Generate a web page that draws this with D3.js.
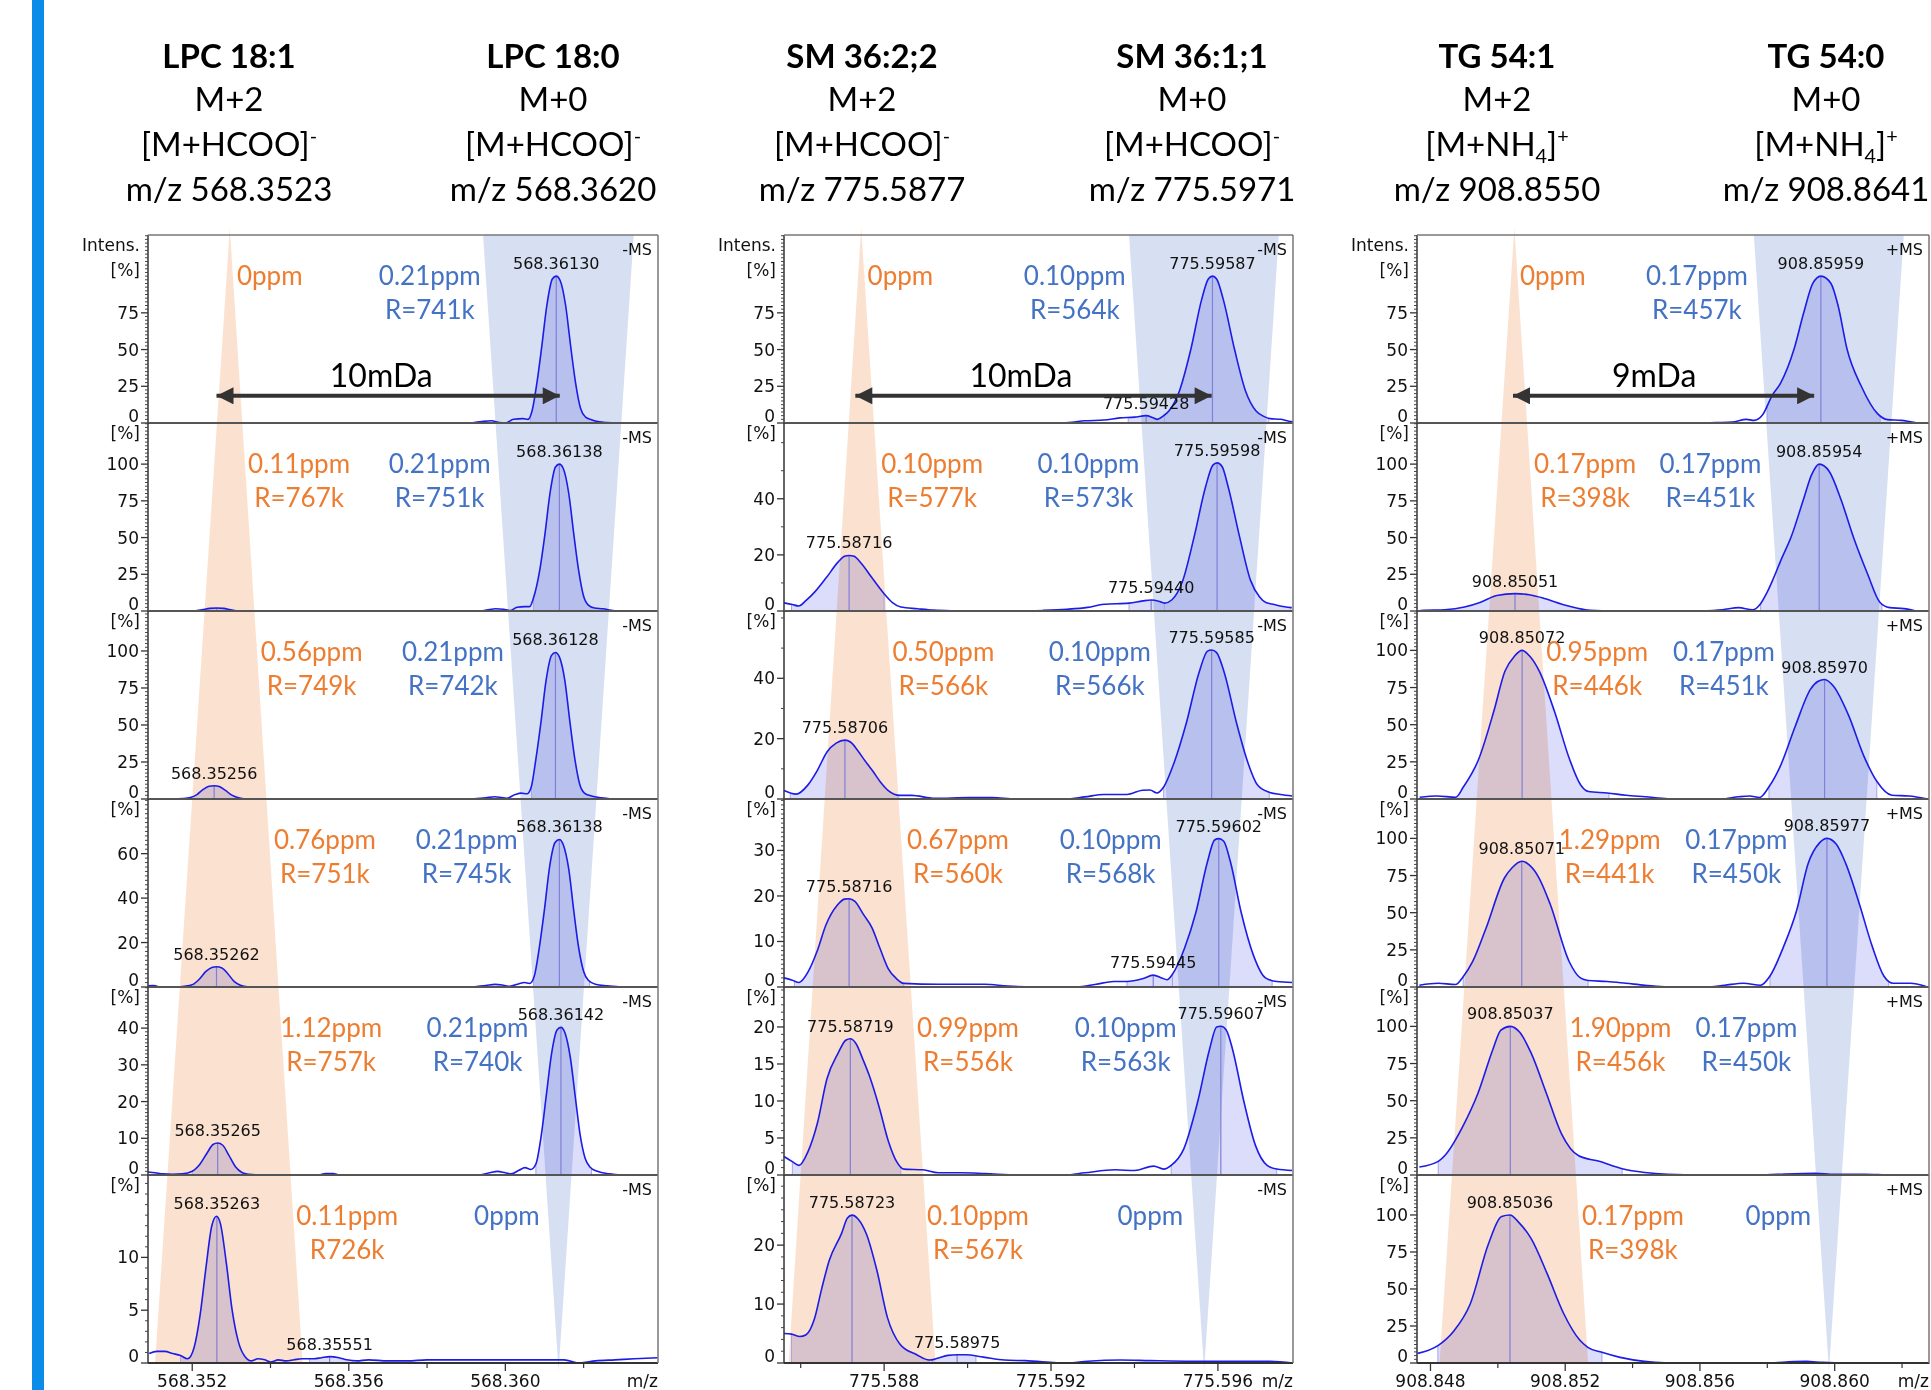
<!DOCTYPE html>
<html>
<head>
<meta charset="utf-8">
<script src="https://cdn.jsdelivr.net/npm/d3@7"></script>
<style>
  body { margin: 0; background: #fff; }
  svg { display: block; }
  .small { font-family: "DejaVu Sans", Verdana, sans-serif; fill: #111; }
  .cal { font-family: Lato, "Open Sans", sans-serif; }
</style>
</head>
<body>
<svg id="chart" width="1931" height="1390"></svg>
<script>

////////////////////////
// Data (read off the //
// reference picture) //
////////////////////////

const X_DOMAINS = [[568.35087, 568.3639], [775.5856, 775.5978], [908.8476, 908.8628]];
const X_TICKS = [[568.352, 568.356, 568.360], [775.588, 775.592, 775.596], [908.848, 908.852, 908.856, 908.860]];
const X_MINOR = [[568.354, 568.358, 568.362], [775.586, 775.590, 775.594], [908.850, 908.854, 908.858, 908.862]];
const POLARITY = ['-MS', '-MS', '+MS'];

const TITLES = [
  [['LPC 18:1', 'M+2', '[M+HCOO]^-', 'm/z 568.3523'], ['LPC 18:0', 'M+0', '[M+HCOO]^-', 'm/z 568.3620']],
  [['SM 36:2;2', 'M+2', '[M+HCOO]^-', 'm/z 775.5877'], ['SM 36:1;1', 'M+0', '[M+HCOO]^-', 'm/z 775.5971']],
  [['TG 54:1', 'M+2', '[M+NH_4]^+', 'm/z 908.8550'], ['TG 54:0', 'M+0', '[M+NH_4]^+', 'm/z 908.8641']]
];

// top of each panel's intensity axis [%]
const Y_MAX = [
  [128, 128, 127, 84.6, 51.2, 17.8],
  [128, 67, 62.3, 41.3, 25.4, 31.9],
  [128, 128, 126.5, 126.5, 126.5, 127]
];
const Y_TICKS = [
  [[0, 25, 50, 75], [0, 25, 50, 75, 100], [0, 25, 50, 75, 100], [0, 20, 40, 60], [0, 10, 20, 30, 40], [0, 5, 10]],
  [[0, 25, 50, 75], [0, 20, 40], [0, 20, 40], [0, 10, 20, 30], [0, 5, 10, 15, 20], [0, 10, 20]],
  [[0, 25, 50, 75], [0, 25, 50, 75, 100], [0, 25, 50, 75, 100], [0, 25, 50, 75, 100], [0, 25, 50, 75, 100], [0, 25, 50, 75, 100]]
];
const Y_MINOR = [[2.5, 2.5, 2.5, 2, 1, 1], [2.5, 10, 10, 1, 1, 2], [2.5, 2.5, 2.5, 2.5, 2.5, 2.5]];

// profile spectra [m/z, intensity %], null = gap
const LPC_PROFILES = [
  [[568.35912,0],[568.35940,1],[568.35964,1.5],[568.35985,0.3],[568.36000,0],[568.36021,2.5],[568.36045,3],[568.36058,2.5],[568.36068,8],[568.36081,28],[568.36093,52],[568.36106,80],[568.36120,98],[568.36130,100],[568.36140,97],[568.36154,80],[568.36167,52],[568.36179,28],[568.36192,10],[568.36205,4],[568.36220,2.2],[568.36240,0.8],[568.36260,0.3],[568.36285,0]],
  [[568.35205,0],[568.35225,0.8],[568.35245,1.8],[568.35262,2],[568.35280,1.8],[568.35298,0.8],[568.35315,0],null,
   [568.35940,0],[568.35960,1],[568.35975,1.5],[568.35995,1.2],[568.36012,0.3],[568.36030,2.5],[568.36050,3],[568.36062,3],[568.36072,9],[568.36088,28],[568.36101,52],[568.36114,80],[568.36128,98],[568.36138,100],[568.36148,97],[568.36162,80],[568.36175,52],[568.36187,28],[568.36200,10],[568.36212,4],[568.36228,2],[568.36250,1.5],[568.36270,0.5],[568.36293,0]],
  [[568.35150,0],[568.35175,0.3],[568.35195,1],[568.35212,3],[568.35228,6.5],[568.35243,8.6],[568.35256,9],[568.35269,8.4],[568.35284,6],[568.35300,2.8],[568.35316,1],[568.35335,0],null,
   [568.35916,0],[568.35950,0.8],[568.35973,1.5],[568.35990,1],[568.36003,0.5],[568.36025,3],[568.36040,4],[568.36055,3.5],[568.36066,8],[568.36078,27],[568.36091,52],[568.36104,80],[568.36118,97],[568.36128,99],[568.36138,96],[568.36152,80],[568.36165,52],[568.36177,28],[568.36190,10],[568.36202,4],[568.36220,2],[568.36245,0.8],[568.36276,0]],
  [[568.35087,0.5],[568.35100,0.6],[568.35115,0],null,
   [568.35155,0],[568.35180,0.3],[568.35200,1],[568.35218,3.5],[568.35235,7],[568.35250,8.8],[568.35262,9.1],[568.35276,8.6],[568.35291,6],[568.35307,2.5],[568.35323,0.8],[568.35345,0],null,
   [568.35916,0],[568.35950,0.6],[568.35974,1.2],[568.35995,0.8],[568.36011,0.3],[568.36035,1.5],[568.36049,2],[568.36062,1.6],[568.36074,5],[568.36087,18],[568.36100,35],[568.36113,54],[568.36127,65],[568.36138,66.4],[568.36148,64],[568.36162,53],[568.36175,34],[568.36187,18],[568.36200,7],[568.36212,3],[568.36230,1.2],[568.36260,0.5],[568.36295,0]],
  [[568.35087,0.8],[568.35105,0.6],[568.35125,0.3],[568.35150,0.2],[568.35175,0.3],[568.35200,1],[568.35220,3],[568.35238,6],[568.35253,8.3],[568.35265,8.7],[568.35278,8.1],[568.35293,5.5],[568.35310,2.3],[568.35327,0.7],[568.35345,0.2],[568.35370,0],null,
   [568.35525,0],[568.35540,0.4],[568.35560,0.4],[568.35575,0],null,
   [568.35935,0],[568.35960,0.6],[568.35980,1],[568.36000,0.6],[568.36015,0.3],[568.36035,1.3],[568.36050,2],[568.36065,1.5],[568.36078,3],[568.36092,11],[568.36105,22],[568.36118,33],[568.36132,39.5],[568.36142,40.2],[568.36152,38.8],[568.36166,32],[568.36179,21],[568.36191,11],[568.36204,4.5],[568.36216,2.2],[568.36235,1],[568.36265,0.3],[568.36300,0]],
  [[568.35090,0.9],[568.35110,1.1],[568.35130,1.1],[568.35150,0.9],[568.35170,0.7],[568.35188,0.4],[568.35205,1.5],[568.35220,4.5],[568.35235,9],[568.35250,13],[568.35262,13.9],[568.35272,13.2],[568.35287,9.5],[568.35302,5],[568.35318,2],[568.35335,0.6],[568.35352,0.2],[568.35368,0.4],[568.35385,0.3],[568.35400,0.1],[568.35420,0.3],[568.35440,0.2],[568.35460,0.3],[568.35480,0.4],[568.35510,0.4],[568.35530,0.5],[568.35551,0.6],[568.35575,0.5],[568.35595,0.3],[568.35620,0.2],[568.35650,0.3],[568.35700,0.2],[568.35750,0.2],[568.35800,0.3],[568.35900,0.3],[568.36000,0.3],[568.36080,0.3],[568.36150,0.3],[568.36190,0],[568.36230,0.2],[568.36280,0.3],[568.36330,0.4],[568.36389,0.5]]
];

const SM_PROFILES = [
  [[775.59213,0],[775.59250,0.5],[775.59280,1.5],[775.59327,2],[775.59365,3.5],[775.59400,4],[775.59428,5],[775.59445,3.5],[775.59455,2.5],[775.59470,5],[775.59482,8],[775.59508,22],[775.59535,50],[775.59561,84],[775.59577,98],[775.59587,100],[775.59597,98],[775.59613,84],[775.59640,50],[775.59666,22],[775.59692,8],[775.59710,4.5],[775.59725,3],[775.59750,2.5],[775.59770,1.2],[775.59780,0.8]],
  [[775.58560,2.9],[775.58580,2.3],[775.58595,1.8],[775.58613,3.8],[775.58635,7],[775.58662,12],[775.58690,17.5],[775.58705,19.5],[775.58716,19.8],[775.58728,19.5],[775.58745,17],[775.58770,12],[775.58798,6.5],[775.58820,3],[775.58840,1.4],[775.58880,0.8],[775.58918,0.3],[775.58960,0.1],[775.59050,0],[775.59110,0],[775.59180,0.2],[775.59238,0.6],[775.59288,1.3],[775.59327,2.4],[775.59387,2.8],[775.59420,3.6],[775.59440,3.9],[775.59458,3.5],[775.59472,2.8],[775.59490,4],[775.59515,10.5],[775.59543,26.4],[775.59570,44],[775.59588,52],[775.59598,52.8],[775.59610,51.5],[775.59625,44],[775.59652,26.4],[775.59678,11],[775.59700,5],[775.59715,3],[775.59735,2.3],[775.59760,1.5],[775.59777,1.2]],
  [[775.58560,2.8],[775.58589,1.6],[775.58617,4.6],[775.58640,9.5],[775.58663,15.6],[775.58685,18.5],[775.58706,19.5],[775.58720,18.8],[775.58737,16],[775.58755,12.5],[775.58774,9],[775.58792,5.5],[775.58810,2.8],[775.58838,1.2],[775.58866,1.2],[775.58921,0.2],[775.59004,0.5],[775.59059,0.5],[775.59115,0],[775.59234,0],[775.59281,0.7],[775.59327,1.5],[775.59382,1.5],[775.59419,2.9],[775.59437,3],[775.59454,2],[775.59470,4],[775.59495,12],[775.59524,25],[775.59555,42],[775.59575,49],[775.59585,49.4],[775.59597,48.5],[775.59615,42],[775.59645,25],[775.59672,12],[775.59695,4.6],[775.59723,2.2],[775.59750,1.5],[775.59778,1]],
  [[775.58560,2],[775.58580,1.5],[775.58596,1],[775.58617,3.2],[775.58640,8],[775.58660,13.5],[775.58688,18],[775.58705,19.3],[775.58716,19.4],[775.58730,18.8],[775.58750,16],[775.58771,13],[775.58790,8.5],[775.58810,4],[775.58830,1.8],[775.58847,0.8],[775.58930,0.6],[775.59041,0.6],[775.59096,0.2],[775.59161,0],[775.59262,0],[775.59308,0.6],[775.59350,1.2],[775.59382,1.2],[775.59419,1.8],[775.59445,2.6],[775.59465,2],[775.59478,1.6],[775.59491,2.8],[775.59520,8.5],[775.59547,16.3],[775.59575,27.5],[775.59592,32.3],[775.59602,32.6],[775.59614,32],[775.59630,27.5],[775.59656,16.3],[775.59685,7],[775.59714,2],[775.59741,1.2],[775.59778,1]],
  [[775.58560,2.5],[775.58580,1.8],[775.58596,1.3],[775.58617,3.1],[775.58640,7],[775.58663,13],[775.58690,16.5],[775.58708,18.2],[775.58719,18.4],[775.58732,17.8],[775.58750,15.5],[775.58764,13.5],[775.58788,9.2],[775.58810,4.6],[775.58830,1.8],[775.58847,0.8],[775.58893,0.7],[775.58930,0.3],[775.58985,0.3],[775.59041,0.2],[775.59124,0],[775.59234,0],[775.59281,0.3],[775.59354,0.7],[775.59400,0.6],[775.59446,1.2],[775.59470,0.8],[775.59488,1.3],[775.59518,3.5],[775.59552,10],[775.59580,17],[775.59597,20],[775.59607,20.1],[775.59620,19.6],[775.59635,17],[775.59662,10],[775.59690,4],[775.59718,1.3],[775.59741,0.8],[775.59778,0.6]],
  [[775.58560,5],[775.58578,4.9],[775.58598,4.5],[775.58613,4.8],[775.58633,7.5],[775.58650,12.5],[775.58668,17.3],[775.58698,22],[775.58712,24.6],[775.58723,25.1],[775.58738,24.4],[775.58758,21.8],[775.58783,15.6],[775.58808,7.7],[775.58838,3.2],[775.58878,1.4],[775.58908,0.5],[775.58928,0.8],[775.58953,1.3],[775.58975,1.4],[775.58995,1.4],[775.59038,1],[775.59088,0.5],[775.59138,0.4],[775.59238,0],[775.59288,0.3],[775.59367,0.5],[775.59437,0.4],[775.59537,0.3],[775.59637,0.3],[775.59717,0.3],[775.59780,0]]
];

const TG_PROFILES = [
  [[908.85606,0],[908.85650,0.3],[908.85696,0.7],[908.85738,2.5],[908.85761,1.8],[908.85785,5.2],[908.85815,19],[908.85839,27],[908.85879,50],[908.85908,75],[908.85935,95],[908.85959,100],[908.85989,95],[908.86010,80],[908.86037,50],[908.86079,25],[908.86127,6.4],[908.86157,2.3],[908.86198,1.8],[908.86225,0.8],[908.86246,0]],
  [[908.84770,0.3],[908.84782,0.5],[908.84842,0.9],[908.84901,2.7],[908.84949,6],[908.84997,10.5],[908.85051,11.8],[908.85093,11.1],[908.85141,8.4],[908.85201,3.9],[908.85260,0.9],[908.85332,0],null,
   [908.85601,0],[908.85667,0.9],[908.85715,2.3],[908.85756,0.8],[908.85780,5],[908.85800,13],[908.85816,21],[908.85843,36],[908.85870,50],[908.85906,75],[908.85932,93],[908.85954,100],[908.85984,95],[908.86020,75],[908.86056,50],[908.86098,25],[908.86134,6],[908.86163,2.3],[908.86205,1.6],[908.86241,0]],
  [[908.84768,1.2],[908.84819,2],[908.84875,1.2],[908.84898,8.2],[908.84943,26.7],[908.84988,59],[908.85021,86],[908.85049,96],[908.85072,100],[908.85095,96],[908.85123,86],[908.85168,59],[908.85213,26.7],[908.85246,9.4],[908.85269,5],[908.85325,4],[908.85381,2.5],[908.85438,1.5],[908.85505,0.2],[908.85663,0],[908.85715,1.5],[908.85748,2],[908.85777,1],[908.85805,8.2],[908.85838,21.8],[908.85883,49],[908.85928,73.8],[908.85951,79.2],[908.85970,80.4],[908.85996,76],[908.86041,56.4],[908.86086,29.2],[908.86125,11.9],[908.86170,2.5],[908.86221,2],[908.86272,0.2]],
  [[908.84767,1.2],[908.84823,2.5],[908.84874,1.7],[908.84897,6.9],[908.84925,17],[908.84964,39],[908.85020,73.5],[908.85043,80.4],[908.85071,84.6],[908.85094,82],[908.85122,73.5],[908.85155,56],[908.85212,17],[908.85245,6.1],[908.85268,4.4],[908.85324,3.7],[908.85380,2.5],[908.85437,1.2],[908.85504,0],[908.85617,0],[908.85673,1.2],[908.85729,2.5],[908.85780,1.2],[908.85808,7.4],[908.85848,27],[908.85887,51.5],[908.85921,83],[908.85955,97],[908.85977,100],[908.86005,96],[908.86033,83],[908.86073,56],[908.86112,27],[908.86146,7.4],[908.86174,2.5],[908.86225,2.5],[908.86270,0.5]],
  [[908.84767,5.4],[908.84823,9.2],[908.84846,14],[908.84896,32.7],[908.84941,55],[908.84986,85],[908.85009,97.5],[908.85037,100],[908.85065,96],[908.85099,82],[908.85144,55],[908.85189,27.7],[908.85240,12.9],[908.85301,9.2],[908.85369,4.2],[908.85436,1.7],[908.85504,0.5],[908.85605,0],[908.85774,0],[908.85830,0.5],[908.85943,1.2],[908.85999,0.5],[908.86089,0.5],[908.86168,0],[908.86269,0]],
  [[908.84762,6.5],[908.84822,11.7],[908.84870,21.8],[908.84918,39.9],[908.84972,80.4],[908.85011,99],[908.85036,100],[908.85062,95],[908.85099,84],[908.85147,60],[908.85195,33.6],[908.85243,15.5],[908.85267,10.6],[908.85309,7.2],[908.85363,3.8],[908.85435,1.1],[908.85495,0.2],[908.85615,0],[908.85796,0],[908.85856,0.7],[908.85916,1.1],[908.85964,0.4],[908.86036,0],[908.86282,0]]
];
const PROFILES = [LPC_PROFILES, SM_PROFILES, TG_PROFILES];

// integrated peak regions [start, end, centroid]
const FILLS = [
  [[[568.36064, 568.36240, 568.36130]],
   [[568.35215, 568.35310, 568.35262], [568.36072, 568.36258, 568.36138]],
   [[568.35197, 568.35330, 568.35256], [568.36067, 568.36233, 568.36128]],
   [[568.35205, 568.35325, 568.35262], [568.36072, 568.36215, 568.36138]],
   [[568.35200, 568.35330, 568.35265], [568.36078, 568.36220, 568.36142]],
   [[568.35170, 568.35345, 568.35263], [568.35500, 568.35610, 568.35551]]],
  [[[775.59385, 775.59472, 775.59428], [775.59472, 775.59722, 775.59587]],
   [[775.58578, 775.58800, 775.58716], [775.59387, 775.59472, 775.59440], [775.59472, 775.59775, 775.59598]],
   [[775.58575, 775.58835, 775.58706], [775.59470, 775.59723, 775.59585]],
   [[775.58585, 775.58847, 775.58716], [775.59382, 775.59491, 775.59445], [775.59491, 775.59730, 775.59602]],
   [[775.58580, 775.58840, 775.58719], [775.59488, 775.59741, 775.59607]],
   [[775.58578, 775.58908, 775.58723], [775.58915, 775.59020, 775.58975]]],
  [[[908.85800, 908.86135, 908.85959]],
   [[908.84800, 908.85300, 908.85051], [908.85780, 908.86140, 908.85954]],
   [[908.84875, 908.85330, 908.85072], [908.85805, 908.86125, 908.85970]],
   [[908.84897, 908.85268, 908.85071], [908.85808, 908.86160, 908.85977]],
   [[908.84823, 908.85369, 908.85037]],
   [[908.84822, 908.85309, 908.85036]]]
];

// labelled peaks [m/z, intensity %]
const PEAK_LABELS = [
  [[[568.36130, 100]], [[568.36138, 100]], [[568.35256, 9], [568.36128, 99]],
   [[568.35262, 9.1], [568.36138, 66.4]], [[568.35265, 8.7], [568.36142, 40.2]], [[568.35263, 13.9], [568.35551, 0.6]]],
  [[[775.59587, 100], [775.59428, 5]], [[775.58716, 19.8], [775.59440, 3.9], [775.59598, 52.8]], [[775.58706, 19.5], [775.59585, 49.4]],
   [[775.58716, 19.4], [775.59445, 2.6], [775.59602, 32.6]], [[775.58719, 18.4], [775.59607, 20.1]], [[775.58723, 25.1], [775.58975, 1.4]]],
  [[[908.85959, 100]], [[908.85051, 11.8], [908.85954, 100]], [[908.85072, 100], [908.85970, 80.4]],
   [[908.85071, 84.6], [908.85977, 100]], [[908.85037, 100]], [[908.85036, 100]]]
];

// mass error / resolution notes [m/z anchor, line 1, line 2]
const ORANGE_NOTES = [
  [[568.35398, '0ppm', ''], [568.35473, '0.11ppm', 'R=767k'], [568.35505, '0.56ppm', 'R=749k'],
   [568.35539, '0.76ppm', 'R=751k'], [568.35555, '1.12ppm', 'R=757k'], [568.35596, '0.11ppm', 'R726k']],
  [[775.58839, '0ppm', ''], [775.58915, '0.10ppm', 'R=577k'], [775.58942, '0.50ppm', 'R=566k'],
   [775.58977, '0.67ppm', 'R=560k'], [775.59001, '0.99ppm', 'R=556k'], [775.59025, '0.10ppm', 'R=567k']],
  [[908.85163, '0ppm', ''], [908.85259, '0.17ppm', 'R=398k'], [908.85295, '0.95ppm', 'R=446k'],
   [908.85332, '1.29ppm', 'R=441k'], [908.85364, '1.90ppm', 'R=456k'], [908.85401, '0.17ppm', 'R=398k']]
];
const BLUE_NOTES = [
  [[568.35807, '0.21ppm', 'R=741k'], [568.35832, '0.21ppm', 'R=751k'], [568.35866, '0.21ppm', 'R=742k'],
   [568.35901, '0.21ppm', 'R=745k'], [568.35929, '0.21ppm', 'R=740k'], [568.36004, '0ppm', '']],
  [[775.59257, '0.10ppm', 'R=564k'], [775.59290, '0.10ppm', 'R=573k'], [775.59317, '0.10ppm', 'R=566k'],
   [775.59343, '0.10ppm', 'R=568k'], [775.59379, '0.10ppm', 'R=563k'], [775.59438, '0ppm', '']],
  [[908.85591, '0.17ppm', 'R=457k'], [908.85631, '0.17ppm', 'R=451k'], [908.85671, '0.17ppm', 'R=451k'],
   [908.85708, '0.17ppm', 'R=450k'], [908.85738, '0.17ppm', 'R=450k'], [908.85833, '0ppm', '']]
];

// guide wedges: orange [apex, bottom-left, bottom-right], blue [top-left, top-right, tip]
const ORANGE_WEDGE = [[568.35296, 568.35105, 568.35482], [775.58745, 775.58571, 775.58923], [908.85049, 908.84827, 908.85268]];
const BLUE_WEDGE = [[568.35943, 568.36328, 568.36136], [775.59387, 775.59746, 775.59567], [908.85760, 908.86205, 908.85983]];

// mass shift arrows [from, to, label, label m/z], drawn at 18.5 % of the top panel
const SHIFT_ARROWS = [[568.35262, 568.36139, '10mDa', 568.35683], [775.58731, 775.59585, '10mDa', 775.59128], [908.85045, 908.85939, '9mDa', 908.85464]];
const ARROW_LEVEL = 18.5;


////////////
// Layout //
////////////

const WIDTH = 1931, HEIGHT = 1390;
const PLOT_TOP = 235, ROW_HEIGHT = 188, ROWS = 6;
const PLOT_LEFT = [148, 784, 1417];
const PLOT_RIGHT = [658, 1293, 1929];
const TITLE_X = [[229, 553], [862, 1192], [1497, 1826]];
const TITLE_BASE = [68, 111, 156, 201];

const ORANGE = '#ED7D31', BLUE = '#4472C4';
const TRACE = '#1c1ce6', LAVENDER = '#dcdcfb';

const svg = d3.select('#chart');
const defs = svg.append('defs');

svg.append('rect').attr('width', WIDTH).attr('height', HEIGHT).attr('fill', '#fff');
svg.append('rect').attr('x', 32).attr('y', 0).attr('width', 12).attr('height', HEIGHT).attr('fill', '#0b8ce8');

defs.append('marker')
  .attr('id', 'head')
  .attr('viewBox', '0 0 10 10')
  .attr('refX', 10).attr('refY', 5)
  .attr('markerUnits', 'userSpaceOnUse')
  .attr('markerWidth', 20).attr('markerHeight', 17)
  .attr('orient', 'auto-start-reverse')
  .append('path').attr('d', 'M0,0 L10,5 L0,10 z').attr('fill', '#333');

for (let c = 0; c < 3; c++) {
  drawColumn(c);
}

/*
 * Writes strings like "[M+NH_4]^+" with sub- and superscripts.
 */
function richText(sel, str, size) {
  const parts = str.split(/([_^].)/).filter(s => s.length);
  let shift = 0;
  for (const p of parts) {
    const dy = -shift;
    if (p[0] === '^') {
      sel.append('tspan').attr('dy', dy - 13).attr('font-size', size * 0.6).text(p[1]);
      shift = -13;
    } else if (p[0] === '_') {
      sel.append('tspan').attr('dy', dy + 7).attr('font-size', size * 0.6).text(p[1]);
      shift = 7;
    } else {
      sel.append('tspan').attr('dy', dy).text(p);
      shift = 0;
    }
  }
}

function drawColumn(c) {
  const x = d3.scaleLinear().domain(X_DOMAINS[c]).range([PLOT_LEFT[c], PLOT_RIGHT[c]]);
  const left = PLOT_LEFT[c], right = PLOT_RIGHT[c];
  const bottom = PLOT_TOP + ROWS * ROW_HEIGHT;

  const g = svg.append('g');
  const fillLayer = g.append('g');
  const overlayLayer = g.append('g');
  const lineLayer = g.append('g');
  const frameLayer = g.append('g');
  const textLayer = g.append('g');

  // column headings
  TITLES[c].forEach((lines, k) => {
    lines.forEach((txt, i) => {
      const t = textLayer.append('text')
        .attr('class', 'cal')
        .attr('x', TITLE_X[c][k]).attr('y', TITLE_BASE[i])
        .attr('text-anchor', 'middle')
        .attr('font-size', 33)
        .attr('font-weight', i === 0 ? 700 : 400)
        .attr('fill', '#000');
      richText(t, txt, 33);
    });
  });

  for (let r = 0; r < ROWS; r++) {
    const top = PLOT_TOP + r * ROW_HEIGHT, base = top + ROW_HEIGHT;
    const y = d3.scaleLinear().domain([0, Y_MAX[c][r]]).range([base, top]);
    const data = PROFILES[c][r];
    const id = `p${c}_${r}`;

    const line = d3.line()
      .defined(d => d !== null)
      .x(d => x(d[0])).y(d => y(d[1]))
      .curve(d3.curveMonotoneX);
    const area = d3.area()
      .defined(d => d !== null)
      .x(d => x(d[0])).y0(base).y1(d => y(d[1]))
      .curve(d3.curveMonotoneX);

    defs.append('clipPath').attr('id', id)
      .append('path').attr('d', area(data));

    // integrated regions
    for (const [a, b, m] of FILLS[c][r]) {
      fillLayer.append('rect')
        .attr('x', x(a)).attr('width', x(b) - x(a))
        .attr('y', top).attr('height', ROW_HEIGHT)
        .attr('fill', LAVENDER)
        .attr('clip-path', `url(#${id})`);
      for (const v of [a, b]) {
        lineLayer.append('line')
          .attr('x1', x(v)).attr('x2', x(v)).attr('y1', base).attr('y2', top)
          .attr('stroke', '#a6a6ea').attr('stroke-width', 1)
          .attr('clip-path', `url(#${id})`);
      }
      lineLayer.append('line')
        .attr('x1', x(m)).attr('x2', x(m)).attr('y1', base).attr('y2', top)
        .attr('stroke', '#8080d6').attr('stroke-width', 1.2)
        .attr('clip-path', `url(#${id})`);
    }

    lineLayer.append('path')
      .attr('d', line(data))
      .attr('fill', 'none')
      .attr('stroke', TRACE)
      .attr('stroke-width', 1.6)
      .attr('stroke-linejoin', 'round');

    // y axis
    frameLayer.append('line')
      .attr('x1', left).attr('x2', left).attr('y1', top).attr('y2', base)
      .attr('stroke', '#333').attr('stroke-width', 1.5);
    const majors = Y_TICKS[c][r];
    const minors = d3.range(0, Y_MAX[c][r] + 1e-9, Y_MINOR[c][r]).filter(v => !majors.some(m => Math.abs(m - v) < 1e-6));
    frameLayer.selectAll(null).data(minors).enter().append('line')
      .attr('x1', left - 3).attr('x2', left).attr('y1', d => y(d)).attr('y2', d => y(d))
      .attr('stroke', '#444').attr('stroke-width', 1);
    frameLayer.selectAll(null).data(majors).enter().append('line')
      .attr('x1', left - 7).attr('x2', left).attr('y1', d => y(d)).attr('y2', d => y(d))
      .attr('stroke', '#333').attr('stroke-width', 1.3);
    textLayer.selectAll(null).data(majors).enter().append('text')
      .attr('class', 'small')
      .attr('font-size', 17)
      .attr('x', left - 9)
      .attr('y', d => d === 0 ? base - 1 : y(d) + 6)
      .attr('text-anchor', 'end')
      .text(d => d);

    if (r === 0) {
      textLayer.append('text').attr('class', 'small').attr('font-size', 17)
        .attr('x', left - 8).attr('y', top + 16).attr('text-anchor', 'end').text('Intens.');
      textLayer.append('text').attr('class', 'small').attr('font-size', 17)
        .attr('x', left - 8).attr('y', top + 41).attr('text-anchor', 'end').text('[%]');
    } else {
      textLayer.append('text').attr('class', 'small').attr('font-size', 17)
        .attr('x', left - 8).attr('y', top + 16).attr('text-anchor', 'end').text('[%]');
    }

    // separators and frame
    frameLayer.append('line')
      .attr('x1', left).attr('x2', right).attr('y1', base).attr('y2', base)
      .attr('stroke', r === ROWS - 1 ? '#333' : '#555').attr('stroke-width', 2);
    frameLayer.append('line')
      .attr('x1', right).attr('x2', right).attr('y1', top).attr('y2', base)
      .attr('stroke', '#777').attr('stroke-width', 1.5);
    if (r === 0) {
      frameLayer.append('line')
        .attr('x1', left).attr('x2', right).attr('y1', top).attr('y2', top)
        .attr('stroke', '#777').attr('stroke-width', 1.5);
    }

    textLayer.append('text').attr('class', 'small').attr('font-size', 16)
      .attr('x', right - 6).attr('y', top + 20).attr('text-anchor', 'end')
      .text(POLARITY[c]);

    // peak labels
    textLayer.selectAll(null).data(PEAK_LABELS[c][r]).enter().append('text')
      .attr('class', 'small')
      .attr('font-size', 16)
      .attr('x', d => x(d[0]))
      .attr('y', d => y(d[1]) - 7)
      .attr('text-anchor', 'middle')
      .text(d => d[0].toFixed(5));

    // mass error notes
    for (const [notes, colour] of [[ORANGE_NOTES, ORANGE], [BLUE_NOTES, BLUE]]) {
      const [mz, l1, l2] = notes[c][r];
      [l1, l2].forEach((txt, i) => {
        if (!txt) return;
        textLayer.append('text')
          .attr('class', 'cal')
          .attr('font-size', 26)
          .attr('fill', colour)
          .attr('x', x(mz)).attr('y', top + 50 + i * 34)
          .attr('text-anchor', 'middle')
          .text(txt);
      });
    }

    if (r === 0) {
      const [from, to, label, labelMz] = SHIFT_ARROWS[c];
      const ay = y(ARROW_LEVEL);
      textLayer.append('line')
        .attr('x1', x(from)).attr('x2', x(to)).attr('y1', ay).attr('y2', ay)
        .attr('stroke', '#333').attr('stroke-width', 4)
        .attr('marker-start', 'url(#head)')
        .attr('marker-end', 'url(#head)');
      textLayer.append('text')
        .attr('class', 'cal')
        .attr('font-size', 32)
        .attr('fill', '#000')
        .attr('x', x(labelMz)).attr('y', ay - 9)
        .attr('text-anchor', 'middle')
        .text(label);
    }
  }

  // guide wedges spanning all rows
  const ow = ORANGE_WEDGE[c], bw = BLUE_WEDGE[c];
  overlayLayer.append('polygon')
    .attr('points', [[x(ow[0]), PLOT_TOP - 7], [x(ow[1]), bottom], [x(ow[2]), bottom]].join(' '))
    .attr('fill', '#f8cbad').attr('fill-opacity', 0.58)
    .style('mix-blend-mode', 'multiply');
  overlayLayer.append('polygon')
    .attr('points', [[x(bw[0]), PLOT_TOP], [x(bw[1]), PLOT_TOP], [x(bw[2]), bottom + 8]].join(' '))
    .attr('fill', '#b4c7e7').attr('fill-opacity', 0.55)
    .style('mix-blend-mode', 'multiply');

  // x axis under the last row
  frameLayer.selectAll(null).data(X_MINOR[c]).enter().append('line')
    .attr('x1', d => x(d)).attr('x2', d => x(d)).attr('y1', bottom).attr('y2', bottom + 5)
    .attr('stroke', '#333').attr('stroke-width', 1.2);
  frameLayer.selectAll(null).data(X_TICKS[c]).enter().append('line')
    .attr('x1', d => x(d)).attr('x2', d => x(d)).attr('y1', bottom).attr('y2', bottom + 8)
    .attr('stroke', '#333').attr('stroke-width', 1.3);
  textLayer.selectAll(null).data(X_TICKS[c]).enter().append('text')
    .attr('class', 'small')
    .attr('font-size', 17)
    .attr('x', d => x(d)).attr('y', bottom + 24)
    .attr('text-anchor', 'middle')
    .text(d => d.toFixed(3));
  textLayer.append('text').attr('class', 'small').attr('font-size', 17)
    .attr('x', right).attr('y', bottom + 24).attr('text-anchor', 'end').text('m/z');
}
</script>
</body>
</html>
